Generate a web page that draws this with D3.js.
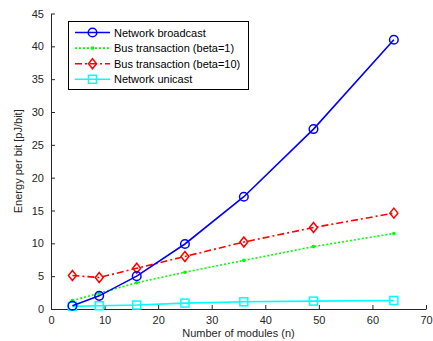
<!DOCTYPE html>
<html>
<head>
<meta charset="utf-8">
<script src="https://cdn.jsdelivr.net/npm/d3@7"></script>
<style>
  body { margin: 0; background: #fff; }
  svg { display: block; font-family: "Liberation Sans", Arial, sans-serif; }
</style>
</head>
<body>
<div id="chart"></div>
<script>
// Number of modules
const modules = [4, 9, 16, 25, 36, 49, 64];

// Energy per bit for each scheme
const broadcast = [0.5, 2.0, 5.0, 9.9, 17.1, 27.4, 41.0];
const busBeta1 = [1.3, 2.4, 4.0, 5.6, 7.4, 9.5, 11.5];
const busBeta10 = [5.1, 4.8, 6.2, 8.0, 10.2, 12.4, 14.6];
const unicast = [0.4, 0.5, 0.6, 0.9, 1.1, 1.2, 1.3];

const xTicks = [0, 10, 20, 30, 40, 50, 60, 70];
const yTicks = [0, 5, 10, 15, 20, 25, 30, 35, 40, 45];

const series = [
  { name: "Network broadcast", values: broadcast, color: "#0000ff", dash: null, marker: "circle" },
  { name: "Bus transaction (beta=1)", values: busBeta1, color: "#00ff00", dash: "2,2", marker: "dot" },
  { name: "Bus transaction (beta=10)", values: busBeta10, color: "#ff0000", dash: "7,3,2,3", marker: "diamond" },
  { name: "Network unicast", values: unicast, color: "#00ffff", dash: null, marker: "square" }
];

const width = 433, height = 341;
const margin = { left: 51, right: 7, top: 13.5, bottom: 32 };

const svg = d3.select("#chart").append("svg")
    .attr("width", width)
    .attr("height", height);

const x = d3.scaleLinear().domain([0, 70]).range([margin.left, width - margin.right]);
const y = d3.scaleLinear().domain([0, 45]).range([height - margin.bottom, margin.top]);

// axes with inward ticks, like matlab
const xAxis = svg.append("g")
    .attr("transform", `translate(0,${y(0)})`)
    .call(d3.axisBottom(x).tickValues(xTicks).tickSizeInner(-4).tickSizeOuter(0).tickPadding(7));
const yAxis = svg.append("g")
    .attr("transform", `translate(${x(0)},0)`)
    .call(d3.axisLeft(y).tickValues(yTicks).tickSizeInner(-4).tickSizeOuter(0).tickPadding(7));

[xAxis, yAxis].forEach(a => {
  a.select(".domain").attr("stroke", "#262626");
  a.selectAll(".tick line").attr("stroke", "#262626");
  a.selectAll(".tick text").attr("fill", "#262626").style("font-size", "11px").style("font-family", "Liberation Sans, Arial, sans-serif");
});

svg.append("text")
    .attr("x", x(35))
    .attr("y", 337)
    .attr("text-anchor", "middle")
    .attr("fill", "#262626")
    .style("font-size", "11px")
    .text("Number of modules (n)");

svg.append("text")
    .attr("transform", `translate(22,${y(22.5)}) rotate(-90)`)
    .attr("text-anchor", "middle")
    .attr("fill", "#262626")
    .style("font-size", "11px")
    .text("Energy per bit [pJ/bit]");

function drawMarker(g, s, cx, cy) {
  if (s.marker === "circle") {
    g.append("circle").attr("cx", cx).attr("cy", cy).attr("r", 4.3)
      .attr("fill", "none").attr("stroke", s.color).attr("stroke-width", 1.5);
  } else if (s.marker === "dot") {
    g.append("circle").attr("cx", cx).attr("cy", cy).attr("r", 1.8)
      .attr("fill", s.color);
  } else if (s.marker === "diamond") {
    const r = 5;
    g.append("path").attr("d", `M${cx},${cy - r}L${cx + r * 0.8},${cy}L${cx},${cy + r}L${cx - r * 0.8},${cy}Z`)
      .attr("fill", "none").attr("stroke", s.color).attr("stroke-width", 1.5);
  } else if (s.marker === "square") {
    const r = 4;
    g.append("rect").attr("x", cx - r).attr("y", cy - r).attr("width", 2 * r).attr("height", 2 * r)
      .attr("fill", "none").attr("stroke", s.color).attr("stroke-width", 1.5);
  }
}

const line = d3.line().x(d => x(d[0])).y(d => y(d[1]));

// draw in reverse so broadcast ends on top
series.slice().reverse().forEach(s => {
  const pts = modules.map((m, i) => [m, s.values[i]]);
  const g = svg.append("g");
  g.append("path")
    .attr("d", line(pts))
    .attr("fill", "none")
    .attr("stroke", s.color)
    .attr("stroke-width", 1.6)
    .attr("stroke-dasharray", s.dash);
  pts.forEach(p => drawMarker(g, s, x(p[0]), y(p[1])));
});

// legend
const lg = svg.append("g");
lg.append("rect")
  .attr("x", 68.5).attr("y", 21.5)
  .attr("width", 180).attr("height", 68)
  .attr("fill", "#fff").attr("stroke", "#000").attr("stroke-width", 1);

series.forEach((s, i) => {
  const ly = 32.5 + i * 15.6;
  lg.append("line")
    .attr("x1", 75).attr("x2", 110)
    .attr("y1", ly).attr("y2", ly)
    .attr("stroke", s.color).attr("stroke-width", 1.6)
    .attr("stroke-dasharray", s.dash);
  drawMarker(lg, s, 92.5, ly);
  lg.append("text")
    .attr("x", 114).attr("y", ly + 4)
    .attr("fill", "#000")
    .style("font-size", "11px")
    .text(s.name);
});
</script>
</body>
</html>
